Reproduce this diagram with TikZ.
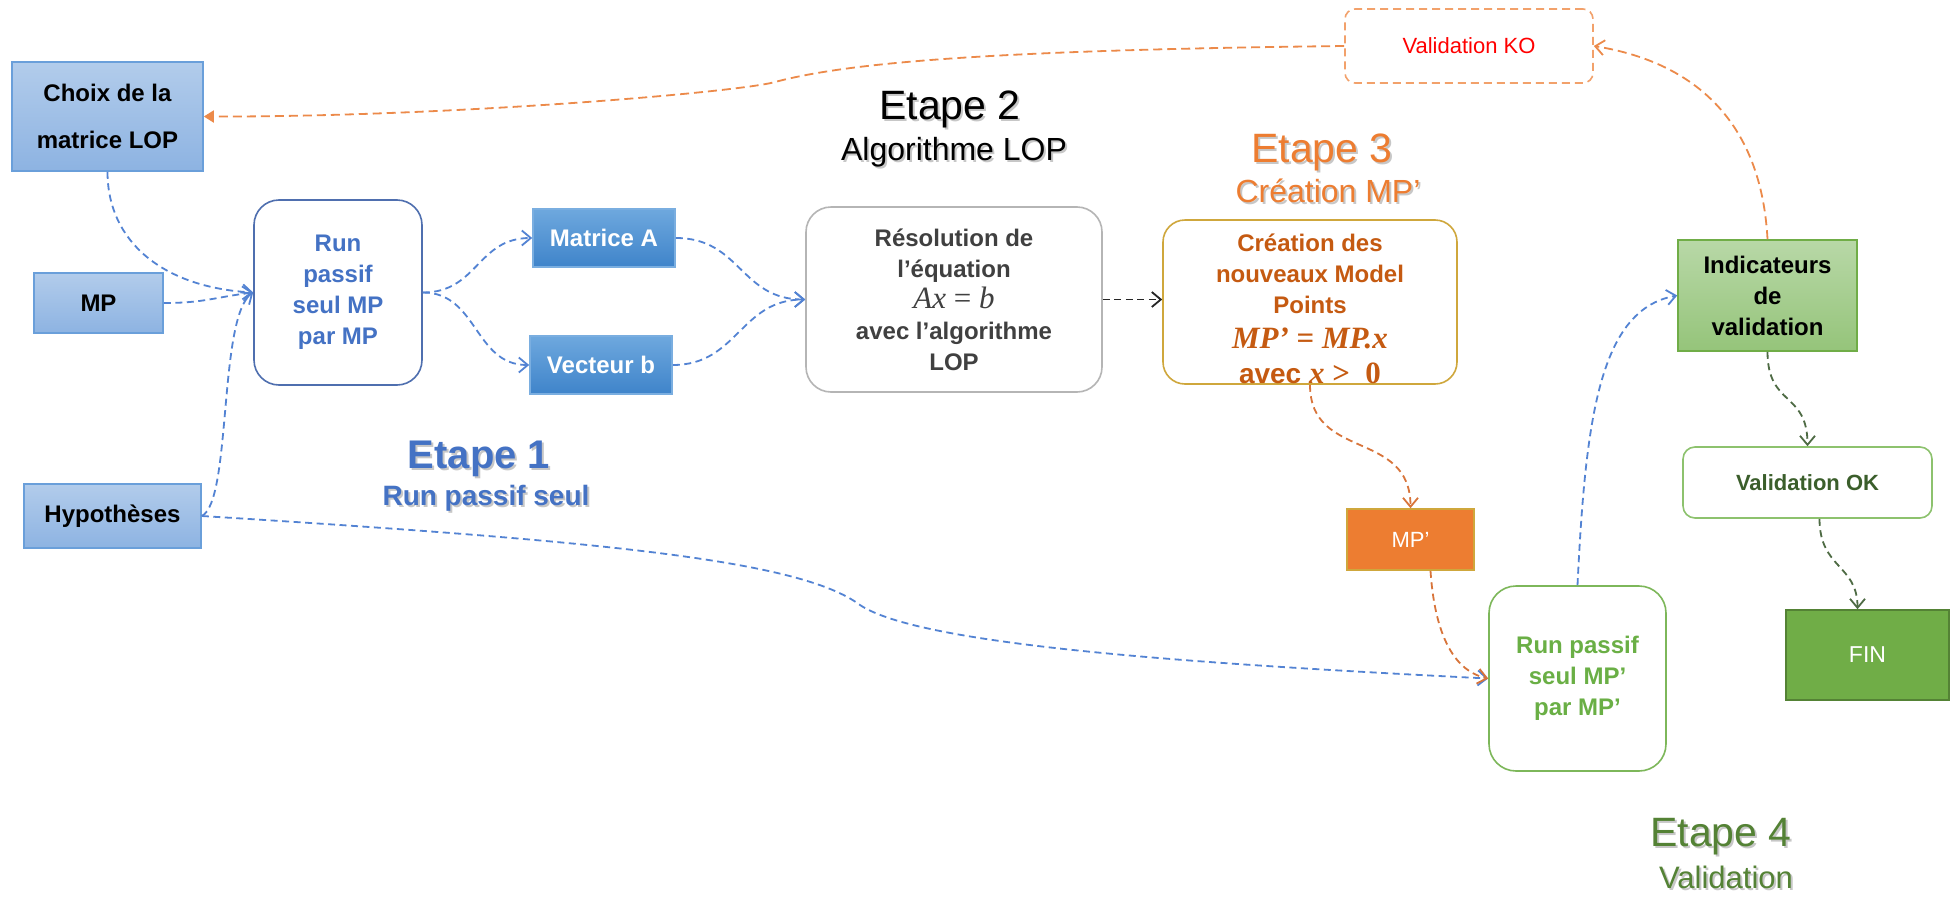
\documentclass[tikz,border=0pt]{standalone}
\usepackage{fontspec}
\setmainfont{Liberation Sans}
\newfontfamily\eqfont{Liberation Serif}
\usetikzlibrary{arrows.meta}

% palette
\definecolor{lbtop}{HTML}{B2CCEB}
\definecolor{lbbot}{HTML}{8DB3E2}
\definecolor{lbedge}{HTML}{6A9FDA}
\definecolor{dbtop}{HTML}{6EA8DE}
\definecolor{dbbot}{HTML}{3F84CA}
\definecolor{dbedge}{HTML}{7AAEE0}
\definecolor{runedge}{HTML}{4F6FAF}
\definecolor{bluetxt}{HTML}{4472C4}
\definecolor{bluewire}{HTML}{5383D3}
\definecolor{orangefill}{HTML}{ED7D31}
\definecolor{orangewire}{HTML}{EC8A4A}
\definecolor{rustwire}{HTML}{D8743A}
\definecolor{darkorange}{HTML}{C55A11}
\definecolor{goldedge}{HTML}{CFA73C}
\definecolor{grayedge}{HTML}{B5B5B5}
\definecolor{graytxt}{HTML}{404040}
\definecolor{gtop}{HTML}{B8D8A7}
\definecolor{gbot}{HTML}{95C47A}
\definecolor{gedge}{HTML}{70AD47}
\definecolor{gdark}{HTML}{548235}
\definecolor{okedge}{HTML}{8DC26E}
\definecolor{oktxt}{HTML}{3B5E2B}
\definecolor{runpedge}{HTML}{7DB75A}
\definecolor{runptxt}{HTML}{6AAF45}
\definecolor{greenwire}{HTML}{4E6B44}
\definecolor{kored}{HTML}{FF0000}
\definecolor{koedge}{HTML}{F2A16B}

\tikzset{
  box/.style={draw, line width=1.6pt, inner sep=0pt, align=center,
    font=\bfseries\fontsize{24}{31}\selectfont},
  paleblue/.style={box, draw=lbedge, top color=lbtop, bottom color=lbbot},
  deepblue/.style={box, draw=dbedge, top color=dbtop, bottom color=dbbot, text=white},
  roundbox/.style={box, fill=white, rounded corners=25pt},
  wire/.style={line width=1.8pt, dash pattern=on 7pt off 4.5pt,
    -{Straight Barb[length=9pt,width=15pt,line width=1.8pt]}},
  bluelink/.style={wire, draw=bluewire},
  orangelink/.style={wire, draw=orangewire, dash pattern=on 9pt off 5pt},
  rustlink/.style={wire, draw=rustwire},
  greenlink/.style={wire, draw=greenwire},
  blacklink/.style={wire, draw=black!85},
  bigtitle/.style={font=\fontsize{41}{45}\selectfont},
  subtitle/.style={font=\fontsize{32}{36}\selectfont}
}

% a stage title with a soft drop shadow
\newcommand\steptitle[5]{%
  \node[anchor=base, xshift=2pt, yshift=-2pt, text=black, text opacity=0.22, #4] (#1-shadow) at #2 {#5};
  \node[anchor=base, text=#3, #4] (#1) at #2 {#5};}

\begin{document}
\begin{tikzpicture}[x=1pt,y=-1pt]
\useasboundingbox[fill=white] (0,0) rectangle (1960,897);

% stage titles
\steptitle{t1}{(479,468)}{bluetxt}{font=\bfseries\fontsize{40}{45}\selectfont}{Etape 1}
\steptitle{t1b}{(486,505)}{bluetxt}{font=\bfseries\fontsize{28}{32}\selectfont}{Run passif seul}
\steptitle{t2}{(950,119)}{black}{bigtitle}{Etape 2}
\steptitle{t2b}{(954,160)}{black}{subtitle}{Algorithme LOP}
\steptitle{t3}{(1322,162)}{orangefill}{bigtitle}{Etape 3}
\steptitle{t3b}{(1328,202)}{orangefill}{subtitle}{Création MP’}
\steptitle{t4}{(1721,846)}{gdark}{bigtitle}{Etape 4}
\steptitle{t4b}{(1726,888)}{gdark}{font=\fontsize{31}{35}\selectfont}{Validation}

% boxes
\node[paleblue, minimum width=191pt, minimum height=109pt,
  font=\bfseries\fontsize{24}{47}\selectfont] (choix) at (107.5,116.5) {Choix de la\\matrice LOP};
\node[paleblue, minimum width=129pt, minimum height=60pt] (mp) at (98.5,303) {MP};
\node[paleblue, minimum width=177pt, minimum height=64pt] (hyp) at (112.5,516) {Hypothèses};
\node[roundbox, draw=runedge, text=bluetxt, minimum width=168pt, minimum height=185pt]
  (run) at (338,292.5) {Run\\passif\\seul MP\\par MP};
\node[deepblue, minimum width=142pt, minimum height=58pt] (matA) at (604,238) {Matrice A};
\node[deepblue, minimum width=142pt, minimum height=58pt] (vecB) at (601,365) {Vecteur b};
\node[roundbox, draw=grayedge, text=graytxt, minimum width=296pt, minimum height=185pt]
  (reso) at (954,299.5) {Résolution de\\l’équation\\%
  {\eqfont\mdseries\fontsize{31}{31}\selectfont\itshape Ax \upshape= \itshape b}\\avec l’algorithme\\LOP};
\node[roundbox, rounded corners=22pt, draw=goldedge, minimum width=294pt, minimum height=164pt]
  (crea) at (1310,302) {};
\node[box, draw=none, text=darkorange] (crea-text) at (1310,309) {Création des\\nouveaux Model\\Points\\[4pt]%
  {\eqfont\fontsize{31}{31}\selectfont\itshape MP’ \upshape= \itshape MP.x}\\[4pt]%
  {\fontsize{28}{31}\selectfont avec {\eqfont\fontsize{31}{31}\selectfont\itshape x \upshape>\ \ 0}}};
\node[draw=koedge, line width=1.6pt, dash pattern=on 8pt off 5pt, rounded corners=10pt,
  minimum width=248pt, minimum height=74pt, text=kored, font=\fontsize{22}{26}\selectfont]
  (ko) at (1469,46) {Validation KO};
\node[box, draw=gedge, top color=gtop, bottom color=gbot, minimum width=179pt, minimum height=111pt]
  (indic) at (1767.5,295.5) {Indicateurs\\de\\validation};
\node[box, fill=white, draw=okedge, text=oktxt, rounded corners=12pt, minimum width=249pt,
  minimum height=71pt, font=\bfseries\fontsize{22}{26}\selectfont] (ok) at (1807.5,482.5) {Validation OK};
\node[box, draw=goldedge, fill=orangefill, text=white, minimum width=127pt, minimum height=61pt,
  font=\fontsize{22}{26}\selectfont] (mpp) at (1410.5,539.5) {MP’};
\node[roundbox, rounded corners=27pt, draw=runpedge, text=runptxt, minimum width=177pt, minimum height=185pt]
  (runp) at (1577.5,678.5) {Run passif\\seul MP’\\par MP’};
\node[box, draw=gdark, fill=gedge, text=white, minimum width=163pt, minimum height=90pt,
  font=\fontsize{23}{26}\selectfont] (fin) at (1867.5,655) {FIN};

\coordinate (bend) at (860,605);
\coordinate (kink) at (775,82);

% inputs of the first run
\draw[bluelink] (choix.south) .. controls +(0,70) and +(-90,-5) .. (run.west);
\draw[bluelink] (mp.east) .. controls +(40,0) and +(-40,5) .. (run.west);
\draw[bluelink] (hyp.east) .. controls +(30,-15) and +(-35,25) .. (run.west);

% first run to the LOP solver
\draw[bluelink] (run.east) .. controls +(55,0) and +(-55,0) .. (matA.west);
\draw[bluelink] (run.east) .. controls +(55,0) and +(-55,0) .. (vecB.west);
\draw[bluelink] (matA.east) .. controls +(65,0) and +(-65,0) .. (reso.west);
\draw[bluelink] (vecB.east) .. controls +(65,0) and +(-65,0) .. (reso.west);
\draw[blacklink] (reso.east) -- (reso.east -| crea.west);

% assumptions reused by the second run
\draw[bluelink] (hyp.east) .. controls +(400,25) and +(-60,-45) .. (bend)
  .. controls +(60,40) and +(-300,-15) .. (runp.west);

% new model points
\draw[rustlink] (crea.south) .. controls +(0,76) and +(0,-79) .. (mpp.north);
\draw[rustlink] ([xshift=20pt]mpp.south) .. controls +(5,75) and +(-28,-6) .. (runp.west);

% validation
\draw[bluelink] (runp.north) .. controls +(8,-166) and +(-78,14) .. (indic.west);
\draw[orangelink] (indic.north) .. controls +(-7,-130) and +(87,14) .. (ko.east);
\draw[orangelink, -{Triangle[length=10pt,width=12pt]}] (ko.west)
  .. controls +(-345,4) and +(75,-20) .. (kink)
  .. controls +(-35,10) and +(247,0.5) .. (choix.east);
\draw[greenlink] (indic.south) .. controls +(0,55) and +(0,-55) .. (ok.north);
\draw[greenlink] ([xshift=12pt]ok.south) .. controls +(0,50) and +(0,-45) .. ([xshift=-10pt]fin.north);
\end{tikzpicture}
\end{document}
